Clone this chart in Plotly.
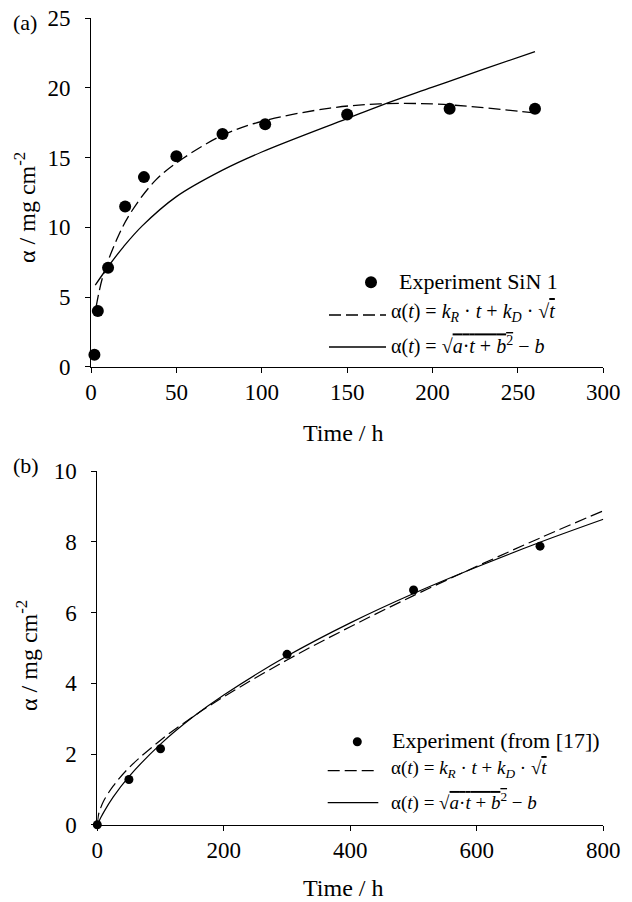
import plotly.graph_objects as go

# ---------------- data: panel (a) ----------------
a_exp_t = [2, 4, 10, 20, 31, 50, 77, 102, 150, 210, 260]
a_exp_y = [0.86, 4.0, 7.1, 11.5, 13.6, 15.1, 16.7, 17.4, 18.1, 18.5, 18.5]

a_dash_t = [3, 7, 15, 23, 38, 54, 77, 100, 140, 169, 200, 228, 260]
a_dash_y = [4.3, 6.5, 9.1, 11.0, 13.4, 14.95, 16.6, 17.6, 18.55, 18.85, 18.85, 18.6, 18.2]

a_solid_t = [2.5, 10, 19, 30, 50, 77, 100, 150, 170, 200, 230, 260]
a_solid_y = [5.85, 7.17, 8.6, 10.1, 12.2, 14.1, 15.4, 17.8, 18.75, 20.05, 21.35, 22.6]

a_xticks = [0, 50, 100, 150, 200, 250, 300]
a_yticks = [0, 5, 10, 15, 20, 25]

# ---------------- data: panel (b) ----------------
b_exp_t = [0, 50, 100, 300, 500, 700]
b_exp_y = [0, 1.28, 2.15, 4.82, 6.64, 7.88]

b_fit_t = [0, 2, 5, 10, 25, 50, 100, 150, 200, 300, 400, 500, 600, 700, 800]
b_dash_y = [0, 0.29, 0.46, 0.67, 1.09, 1.61, 2.39, 3.04, 3.62, 4.66, 5.60, 6.48, 7.31, 8.11, 8.88]
b_solid_y = [0, 0.07, 0.18, 0.35, 0.78, 1.36, 2.28, 3.03, 3.67, 4.77, 5.71, 6.54, 7.29, 7.99, 8.64]

b_xticks = [0, 200, 400, 600, 800]
b_yticks = [0, 2, 4, 6, 8, 10]

LEG_A = ["Experiment SiN 1"]
LEG_B = ["Experiment (from [17])"]
F1 = "α(<i>t</i>) = <i>k</i><sub><i>R</i></sub> · <i>t</i> + <i>k</i><sub><i>D</i></sub> · √<span style='text-decoration:overline'><i>t</i></span>"
F2 = "α(<i>t</i>) = √<span style='text-decoration:overline'><i>a</i>·<i>t</i> + <i>b</i><sup>2</sup></span> − <i>b</i>"

FONT = "Liberation Serif, Times New Roman, serif"
W, H = 632, 902
DASH = "12px,5px"

def px(x):
    return x / W

def py(y):
    return 1 - y / H

fig = go.Figure()

# panel (a)
fig.add_trace(go.Scatter(x=a_dash_t, y=a_dash_y, mode="lines", line=dict(color="black", width=1.3, dash=DASH, shape="spline", smoothing=1.0),
                         xaxis="x", yaxis="y", showlegend=False, cliponaxis=False))
fig.add_trace(go.Scatter(x=a_solid_t, y=a_solid_y, mode="lines", line=dict(color="black", width=1.3, shape="spline", smoothing=1.0),
                         xaxis="x", yaxis="y", showlegend=False, cliponaxis=False))
fig.add_trace(go.Scatter(x=a_exp_t, y=a_exp_y, mode="markers", marker=dict(color="black", size=12),
                         xaxis="x", yaxis="y", showlegend=False, cliponaxis=False))

# panel (b)
fig.add_trace(go.Scatter(x=b_fit_t, y=b_dash_y, mode="lines", line=dict(color="black", width=1.2, dash=DASH, shape="spline", smoothing=1.0),
                         xaxis="x2", yaxis="y2", showlegend=False, cliponaxis=False))
fig.add_trace(go.Scatter(x=b_fit_t, y=b_solid_y, mode="lines", line=dict(color="black", width=1.2, shape="spline", smoothing=1.0),
                         xaxis="x2", yaxis="y2", showlegend=False, cliponaxis=False))
fig.add_trace(go.Scatter(x=b_exp_t, y=b_exp_y, mode="markers", marker=dict(color="black", size=9),
                         xaxis="x2", yaxis="y2", showlegend=False, cliponaxis=False))

axis_common = dict(showline=True, linecolor="black", linewidth=1, ticks="outside", ticklen=5, tickwidth=1,
                   tickcolor="black", showgrid=False, zeroline=False, fixedrange=True,
                   tickfont=dict(family=FONT, size=23, color="black"), automargin=False)

fig.update_layout(
    width=W, height=H, autosize=False,
    margin=dict(l=0, r=0, t=0, b=0),
    paper_bgcolor="white", plot_bgcolor="white",
    xaxis=dict(domain=[px(91), px(603.3)], range=[0, 300], tickvals=a_xticks, anchor="y", **axis_common),
    yaxis=dict(domain=[py(366.7), py(18.2)], range=[0, 25], tickvals=a_yticks, anchor="x", ticklabelstandoff=10, **axis_common),
    xaxis2=dict(domain=[px(97.3), px(603.3)], range=[0, 800], tickvals=b_xticks, anchor="y2", **axis_common),
    yaxis2=dict(domain=[py(824.7), py(471.2)], range=[0, 10], tickvals=b_yticks, anchor="x2", ticklabelstandoff=10, **axis_common),
    showlegend=False,
)

ann = []
def text(x, y, s, size, xanchor="left", angle=0, yanchor="middle"):
    ann.append(dict(x=px(x), y=py(y), xref="paper", yref="paper", text=s, showarrow=False,
                    xanchor=xanchor, yanchor=yanchor, textangle=angle, borderpad=0,
                    font=dict(family=FONT, size=size, color="black")))

# panel labels
text(12, 22, "(a)", 22)
text(12, 465, "(b)", 22)
# axis titles
text(343, 433, "Time / h", 24, xanchor="center")
text(343, 902, "Time / h", 24, xanchor="center", yanchor="bottom")
text(25, 208, "α / mg cm<sup>-2</sup>", 24, xanchor="center", angle=-90)
text(27, 656, "α / mg cm<sup>-2</sup>", 24, xanchor="center", angle=-90)
# legend (a)
text(397.7, 281, LEG_A[0], 22)
text(390, 313, F1, 20)
text(390, 345, F2, 20)
# legend (b)
text(390.7, 740, LEG_B[0], 22)
text(390, 769, F1, 19)
text(390, 801, F2, 19)
fig.update_layout(annotations=ann)

shapes = []
def hline(x0, x1, y, dash=None):
    shapes.append(dict(type="line", xref="paper", yref="paper", x0=px(x0), x1=px(x1), y0=py(y), y1=py(y),
                       line=dict(color="black", width=1.3, dash=dash or "solid")))
def dot(cx, cy, d):
    shapes.append(dict(type="circle", xref="paper", yref="paper", x0=px(cx - d / 2), x1=px(cx + d / 2),
                       y0=py(cy + d / 2), y1=py(cy - d / 2), fillcolor="black", line=dict(width=0)))

dot(371, 282.3, 12)
hline(329, 386, 315, DASH)
hline(329, 386, 347)
dot(357.3, 741.7, 9)
hline(327.7, 378.3, 770.7, DASH)
hline(327.7, 378.3, 802.7)
fig.update_layout(shapes=shapes)

fig.write_html("out.html", config={"displayModeBar": False},
               post_script="document.body.style.margin='0';document.body.style.padding='0';")
